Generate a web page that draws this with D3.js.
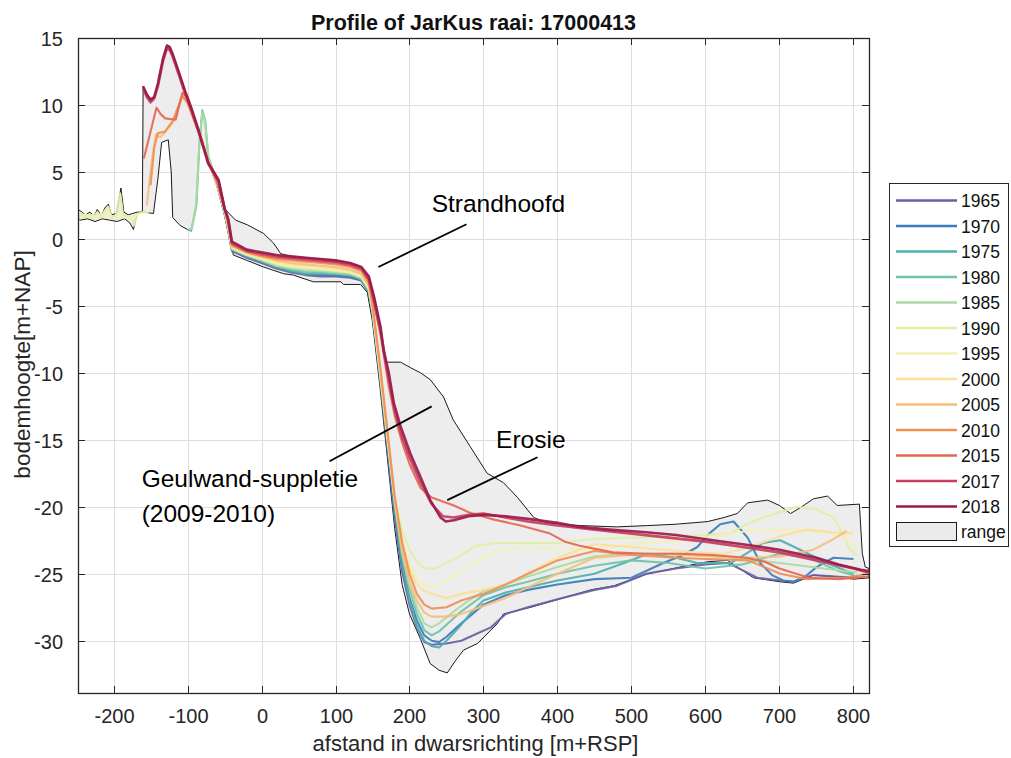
<!DOCTYPE html>
<html>
<head>
<meta charset="utf-8">
<script src="https://cdn.jsdelivr.net/npm/d3@7"></script>
<style>
  html, body { margin: 0; padding: 0; background: #fff; }
  svg { display: block; font-family: "Liberation Sans", Arial, sans-serif; }
</style>
</head>
<body>
<svg id="chart" width="1011" height="758"></svg>
<script>
// ---- profile data: [distance m+RSP, height m+NAP] ----
const years = ["1965","1970","1975","1980","1985","1990","1995","2000","2005","2010","2015","2017","2018"];
const colors = ["#6a5fa6","#3b7dba","#4eaeb0","#6fc3a6","#a9dba3","#def0a2","#f3f0b4","#fbdf96","#f8bd7c","#ef8f55","#e4674f","#c63d5e","#9b1a4b"];

const p1965 = [[-72,5.9],[-60,4.0],[-50,1.9],[-45,0.6],[-40,-0.9],[-20,-1.4],[0,-1.8],[20,-2.2],[40,-2.5],[60,-2.7],[80,-2.8],[100,-2.8],[120,-2.9],[135,-3.1],[145,-4.0],[150,-5.6],[160,-10.3],[170,-15.6],[180,-20.8],[190,-24.8],[200,-27.3],[210,-29.0],[220,-30.1],[230,-30.3],[250,-30.2],[270,-30.0],[290,-29.5],[310,-29.0],[330,-28.0],[360,-27.5],[400,-26.9],[450,-26.2],[480,-25.9],[520,-25.0],[560,-24.6],[600,-24.3],[630,-24.2],[645,-24.6],[670,-25.3],[700,-25.5],[720,-25.6],[745,-25.1],[775,-25.2],[800,-25.3]];
const p1970 = [[-72,5.9],[-60,4.1],[-50,2.0],[-45,0.7],[-40,-0.8],[-20,-1.3],[0,-1.7],[20,-2.1],[40,-2.4],[60,-2.6],[80,-2.7],[100,-2.7],[120,-2.8],[135,-3.1],[145,-4.0],[150,-5.5],[160,-10.2],[170,-15.3],[180,-20.4],[190,-24.3],[200,-26.8],[210,-28.5],[220,-29.6],[230,-30.0],[240,-30.1],[250,-29.7],[270,-28.7],[300,-27.3],[330,-26.6],[360,-26.2],[400,-25.8],[450,-25.4],[500,-25.3],[543,-24.2],[570,-23.6],[589,-23.0],[605,-22.0],[620,-21.3],[638,-21.1],[657,-22.3],[674,-24.2],[690,-25.1],[705,-25.5],[719,-25.6],[735,-25.2],[750,-24.5],[773,-23.8],[800,-23.9]];
const p1975 = [[-72,5.9],[-60,4.1],[-50,2.0],[-45,0.7],[-40,-0.8],[-20,-1.3],[0,-1.7],[20,-2.1],[40,-2.4],[60,-2.6],[80,-2.6],[100,-2.6],[120,-2.7],[135,-3.0],[145,-3.9],[150,-5.4],[160,-10.0],[170,-15.0],[180,-20.0],[190,-24.2],[200,-27.0],[210,-28.9],[220,-30.0],[230,-30.4],[240,-30.5],[250,-30.0],[260,-29.4],[270,-28.8],[285,-27.8],[300,-27.0],[330,-26.4],[360,-26.0],[400,-25.5],[450,-25.0],[490,-24.2],[522,-23.5],[560,-23.8],[589,-24.2],[634,-24.2],[655,-23.5],[678,-22.7],[701,-22.5],[728,-23.2],[750,-23.8],[773,-24.4],[800,-25.0]];
const p1980 = [[-100,0.7],[-95,0.6],[-88,2.5],[-84,7.0],[-80,9.6],[-76,8.8],[-72,6.2],[-60,4.1],[-50,2.0],[-45,0.8],[-40,-0.8],[-20,-1.2],[0,-1.6],[20,-2.0],[40,-2.3],[60,-2.5],[80,-2.5],[100,-2.6],[120,-2.7],[135,-3.0],[145,-3.9],[150,-5.4],[160,-10.0],[170,-15.0],[180,-19.8],[190,-23.6],[200,-26.1],[210,-28.0],[220,-29.2],[230,-29.6],[240,-29.3],[250,-28.8],[270,-27.8],[300,-26.6],[330,-26.0],[360,-25.6],[400,-25.0],[450,-24.4],[500,-24.0],[550,-24.2],[600,-24.6],[650,-24.3],[700,-23.5],[740,-23.8],[780,-24.8],[805,-25.2]];
const p1985 = [[-98,0.7],[-94,0.8],[-88,2.7],[-84,7.2],[-80,9.5],[-76,8.7],[-72,6.1],[-60,4.1],[-50,2.0],[-45,0.8],[-40,-0.7],[-20,-1.2],[0,-1.6],[20,-2.0],[40,-2.2],[60,-2.3],[80,-2.4],[100,-2.5],[120,-2.6],[135,-2.9],[145,-3.8],[150,-5.3],[160,-9.9],[170,-14.8],[180,-19.6],[190,-23.4],[200,-25.8],[210,-27.5],[220,-28.7],[230,-29.0],[240,-28.7],[260,-27.8],[280,-27.0],[300,-26.3],[330,-25.8],[360,-25.2],[400,-24.5],[450,-23.7],[500,-23.5],[566,-23.5],[634,-23.8],[701,-24.2],[760,-24.6],[805,-24.9]];
const p1990 = [[-248,1.6],[-243,1.9],[-238,1.6],[-233,1.8],[-228,1.5],[-222,2.0],[-217,1.6],[-212,2.1],[-207,2.4],[-203,1.7],[-197,1.7],[-191,3.4],[-187,1.8],[-181,1.7],[-175,1.6],[-172,1.0],[-168,1.9],[-120,null],
  [-72,5.9],[-60,4.1],[-50,2.1],[-45,0.9],[-40,-0.7],[-20,-1.2],[0,-1.5],[20,-1.9],[40,-2.1],[60,-2.2],[80,-2.3],[100,-2.4],[120,-2.5],[135,-2.8],[145,-3.7],[150,-5.2],[160,-9.8],[170,-14.6],[180,-19.2],[190,-21.8],[200,-23.2],[210,-24.1],[220,-24.6],[235,-24.6],[250,-24.2],[270,-23.6],[290,-22.9],[320,-22.7],[360,-22.7],[400,-22.7],[450,-22.4],[500,-22.3],[566,-22.2],[634,-22.0],[655,-21.3],[678,-20.8],[700,-20.4],[724,-20.0],[750,-20.2],[773,-20.8],[785,-22.0],[795,-23.2],[805,-23.6]];
const p1995 = [[-248,1.5],[-243,1.6],[-238,1.9],[-233,1.6],[-228,1.8],[-222,1.5],[-217,1.9],[-212,1.6],[-207,2.2],[-203,1.5],[-197,1.6],[-191,2.0],[-187,1.6],[-181,1.6],[-175,1.5],[-170,1.8],[-166,1.9],[-160,2.0],[-152,1.9],[-120,null],
  [-72,5.9],[-60,4.1],[-50,2.1],[-45,0.9],[-40,-0.6],[-20,-1.1],[0,-1.5],[20,-1.8],[40,-2.0],[60,-2.1],[80,-2.2],[100,-2.3],[120,-2.5],[135,-2.8],[145,-3.7],[150,-5.2],[160,-9.8],[170,-14.7],[180,-19.5],[190,-22.7],[200,-24.3],[210,-25.3],[220,-25.9],[230,-26.0],[250,-25.5],[270,-24.8],[300,-23.8],[320,-23.2],[360,-23.0],[400,-23.1],[450,-23.2],[500,-22.8],[566,-22.5],[610,-22.2],[657,-21.8],[700,-21.7],[746,-21.8],[775,-22.0],[795,-22.6],[805,-23.2]];
const p2000 = [[-72,5.9],[-60,4.2],[-50,2.2],[-45,1.0],[-40,-0.6],[-20,-1.1],[0,-1.4],[20,-1.7],[40,-1.9],[60,-2.0],[80,-2.1],[100,-2.2],[120,-2.4],[135,-2.7],[145,-3.6],[150,-5.1],[160,-9.6],[170,-14.5],[180,-19.4],[190,-22.8],[200,-24.6],[210,-25.8],[220,-26.3],[230,-26.5],[250,-26.8],[270,-26.5],[300,-26.2],[330,-25.8],[360,-25.0],[400,-23.8],[450,-22.8],[500,-23.0],[543,-23.2],[585,-23.4],[625,-23.5],[660,-23.0],[701,-22.2],[737,-21.7],[770,-21.9],[800,-22.0]];
const p2005 = [[-155,2.5],[-149,5.5],[-143,7.8],[-137,7.6],[-131,7.9],[-120,8.7],[-107,10.6],[-100,10.1],[-92,9.0],[-85,8.0],[-72,5.8],[-60,4.2],[-50,2.2],[-45,1.0],[-40,-0.5],[-20,-1.0],[0,-1.3],[20,-1.6],[40,-1.8],[60,-1.9],[80,-2.0],[100,-2.1],[120,-2.3],[135,-2.6],[145,-3.5],[150,-5.0],[160,-9.5],[170,-14.5],[180,-19.5],[190,-23.2],[200,-25.6],[210,-27.0],[220,-27.9],[230,-28.2],[250,-28.2],[270,-28.0],[300,-27.4],[330,-26.8],[360,-26.0],[400,-25.0],[450,-23.8],[522,-23.5],[570,-23.6],[611,-23.7],[660,-23.8],[701,-23.7],[746,-23.2],[770,-22.5],[791,-21.8]];
const p2010 = [[-150,4.0],[-145,6.8],[-140,7.9],[-131,8.0],[-120,8.8],[-107,10.7],[-100,10.2],[-92,9.0],[-85,8.0],[-72,5.8],[-60,4.2],[-50,2.3],[-45,1.1],[-40,-0.5],[-20,-1.0],[0,-1.3],[20,-1.5],[40,-1.6],[60,-1.7],[80,-1.8],[100,-1.9],[120,-2.1],[135,-2.4],[145,-3.3],[150,-4.9],[160,-9.3],[170,-14.2],[180,-19.2],[190,-22.6],[200,-25.0],[210,-26.5],[220,-27.3],[230,-27.6],[250,-27.5],[270,-27.0],[300,-26.5],[330,-25.8],[360,-25.0],[400,-24.0],[450,-23.3],[499,-23.6],[560,-23.8],[600,-23.9],[657,-24.0],[680,-24.5],[701,-25.0],[737,-25.4],[790,-25.3],[820,-25.0]];
const p2015 = [[-159,6.0],[-150,8.0],[-142,9.8],[-136,9.3],[-130,9.0],[-116,8.9],[-107,10.9],[-100,10.6],[-92,9.3],[-85,8.1],[-72,5.7],[-60,4.3],[-50,2.2],[-45,1.3],[-40,-0.4],[-20,-0.9],[0,-1.2],[20,-1.4],[40,-1.5],[60,-1.6],[80,-1.7],[100,-1.8],[120,-2.0],[135,-2.3],[145,-3.1],[151,-4.5],[161,-7.2],[172,-11.0],[180,-13.2],[190,-15.2],[200,-16.8],[215,-18.6],[230,-19.3],[245,-19.6],[260,-19.9],[280,-20.4],[310,-20.9],[350,-21.4],[390,-22.0],[410,-22.6],[430,-22.9],[475,-23.4],[520,-23.5],[565,-23.5],[610,-23.6],[655,-23.8],[680,-24.1],[700,-24.6],[740,-25.3],[780,-25.4],[820,-25.2]];
const p2017 = [[-160,11.2],[-155,10.6],[-150,10.2],[-145,10.5],[-140,11.4],[-133,13.3],[-128,14.2],[-124,14.1],[-120,13.6],[-112,12.3],[-103,10.8],[-95,9.6],[-85,8.0],[-72,5.6],[-58,4.3],[-50,2.3],[-45,1.4],[-40,-0.3],[-20,-0.9],[0,-1.1],[20,-1.3],[40,-1.4],[60,-1.5],[80,-1.6],[100,-1.7],[120,-1.9],[135,-2.2],[145,-3.0],[151,-4.4],[161,-6.9],[172,-10.5],[180,-12.8],[190,-14.8],[200,-16.3],[215,-18.2],[230,-19.8],[245,-20.7],[260,-20.8],[280,-20.6],[300,-20.5],[330,-20.8],[360,-21.1],[400,-21.4],[450,-21.7],[500,-22.0],[550,-22.3],[600,-22.6],[650,-23.0],[700,-23.4],[750,-24.0],[800,-24.6],[820,-24.9]];
const p2018 = [[-160,11.4],[-155,10.8],[-150,10.4],[-145,10.6],[-140,11.6],[-133,13.5],[-128,14.4],[-124,14.3],[-120,13.8],[-112,12.5],[-103,11.0],[-95,9.8],[-85,8.1],[-72,5.7],[-58,4.4],[-50,2.3],[-45,1.5],[-40,-0.2],[-20,-0.8],[0,-1.0],[20,-1.2],[40,-1.3],[60,-1.4],[80,-1.5],[100,-1.6],[120,-1.8],[135,-2.1],[145,-2.8],[152,-4.3],[161,-6.6],[165,-8.3],[172,-10.0],[179,-12.3],[188,-14.0],[201,-16.0],[215,-17.8],[228,-19.5],[242,-20.8],[249,-21.1],[260,-21.0],[280,-20.7],[300,-20.6],[330,-20.7],[360,-20.9],[400,-21.2],[430,-21.5],[470,-21.7],[520,-21.9],[560,-22.1],[610,-22.5],[650,-22.8],[700,-23.2],[750,-23.8],[780,-24.3],[810,-24.7],[821,-24.8]];

// envelope over all surveyed years
const rangeUpper = [[-248,2.2],[-245,2.1],[-238,1.8],[-232,2.0],[-226,1.7],[-222,2.2],[-216,1.7],[-212,2.3],[-207,2.6],[-203,1.8],[-196,1.9],[-190,3.8],[-186,2.0],[-180,1.8],[-174,1.9],[-168,2.0],[-161,2.0],[-160,11.4],[-155,10.8],[-150,10.4],[-145,10.6],[-140,11.6],[-133,13.5],[-128,14.5],[-124,14.4],[-120,13.8],[-112,12.5],[-103,11.0],[-95,9.8],[-85,8.1],[-72,5.7],[-58,4.4],[-52,3.0],[-49,2.2],[-35,1.4],[-19,1.05],[3,0.4],[16,-0.3],[26,-1.1],[40,-1.3],[60,-1.4],[80,-1.5],[100,-1.6],[120,-1.8],[135,-2.1],[145,-2.8],[152,-4.2],[161,-6.6],[165,-8.3],[168,-9.2],[188,-9.2],[201,-9.6],[215,-10.0],[228,-10.5],[246,-11.8],[259,-13.5],[282,-15.5],[305,-17.5],[327,-18.2],[346,-19.3],[368,-20.8],[386,-21.2],[431,-21.4],[480,-21.5],[522,-21.4],[560,-21.3],[603,-21.1],[625,-20.8],[643,-20.5],[657,-19.7],[684,-19.5],[700,-19.9],[715,-20.5],[730,-20.0],[746,-19.4],[765,-19.2],[778,-19.9],[808,-19.8],[812,-23.5],[816,-24.5],[821,-24.6]];
const rangeLower = [[-248,1.5],[-245,1.4],[-235,1.5],[-225,1.3],[-215,1.5],[-205,1.4],[-195,1.3],[-185,1.5],[-178,1.2],[-173,0.7],[-168,1.9],[-160,2.0],[-146,1.9],[-140,4.5],[-135,7.2],[-126,7.4],[-122,5.0],[-120,1.6],[-110,1.0],[-100,0.7],[-95,0.6],[-88,2.5],[-84,7.0],[-80,9.6],[-76,8.8],[-72,5.9],[-60,4.0],[-50,1.8],[-45,0.5],[-38,-1.2],[-20,-1.6],[3,-2.1],[30,-2.6],[43,-2.7],[70,-3.2],[107,-3.2],[111,-3.4],[134,-3.4],[143,-4.0],[150,-6.2],[160,-11.0],[170,-16.3],[180,-21.6],[190,-25.8],[200,-28.0],[215,-29.9],[228,-31.7],[240,-32.2],[251,-32.4],[262,-31.5],[273,-30.7],[292,-30.2],[319,-28.7],[327,-28.0],[364,-27.5],[408,-26.8],[445,-26.2],[476,-25.9],[522,-25.0],[566,-24.5],[603,-24.1],[630,-24.0],[643,-24.5],[665,-25.3],[701,-25.6],[719,-25.7],[746,-25.1],[773,-25.2],[800,-25.4],[821,-25.3]];

const xTicks = [-200,-100,0,100,200,300,400,500,600,700,800];
const yTicks = [15,10,5,0,-5,-10,-15,-20,-25,-30];

const profiles = [p1965,p1970,p1975,p1980,p1985,p1990,p1995,p2000,p2005,p2010,p2015,p2017,p2018];

// annotations in data coordinates
const notes = [
  { lines: ["Strandhoofd"], at: [230, 2.0], from: [158, -2.1], to: [277, 1.1] },
  { lines: ["Geulwand-suppletie", "(2009-2010)"], at: [-162, -18.5], from: [92, -16.6], to: [230, -12.5] },
  { lines: ["Erosie"], at: [317, -15.6], from: [251, -19.5], to: [373, -16.3] }
];

// ---- layout ----
const svg = d3.select("#chart");
const L = 78, R = 869, T = 38, B = 693;
const x = d3.scaleLinear().domain([-248, 821]).range([L, R]);
const y = d3.scaleLinear().domain([-33.9, 15]).range([B, T]);
const FONT = "'Liberation Sans', Arial, sans-serif";
const AX = "#262626";

svg.append("rect").attr("width", 1011).attr("height", 758).attr("fill", "#fff");

svg.append("clipPath").attr("id", "plotclip")
  .append("rect").attr("x", L).attr("y", T).attr("width", R - L).attr("height", B - T);

// grid
const grid = svg.append("g");
grid.selectAll(".gx").data(xTicks).join("line")
  .attr("x1", d => Math.round(x(d)) + 0.5).attr("x2", d => Math.round(x(d)) + 0.5)
  .attr("y1", T).attr("y2", B).attr("stroke", "#dedede").attr("stroke-width", 1);
grid.selectAll(".gy").data(yTicks).join("line")
  .attr("y1", d => Math.round(y(d)) + 0.5).attr("y2", d => Math.round(y(d)) + 0.5)
  .attr("x1", L).attr("x2", R).attr("stroke", "#dedede").attr("stroke-width", 1);

const plot = svg.append("g").attr("clip-path", "url(#plotclip)");

// range envelope
const lin = d3.line().x(d => x(d[0])).y(d => y(d[1]));
const rangePoly = rangeUpper.concat(rangeLower.slice().reverse());
plot.append("path")
  .attr("d", lin(rangePoly) + "Z")
  .attr("fill", "#ebebeb").attr("fill-opacity", 0.9)
  .attr("stroke", "#1a1a1a").attr("stroke-width", 1).attr("stroke-linejoin", "round");

// year profiles
const yl = d3.line().defined(d => d[1] !== null).x(d => x(d[0])).y(d => y(d[1]));
profiles.forEach((p, i) => {
  plot.append("path")
    .attr("d", yl(p))
    .attr("fill", "none")
    .attr("stroke", colors[i])
    .attr("stroke-width", i >= 11 ? 2.6 : 2.1)
    .attr("stroke-opacity", 0.92)
    .attr("stroke-linejoin", "round");
});

// axes box and ticks
const axes = svg.append("g");
const tl = 7;
xTicks.forEach(t => {
  const px = Math.round(x(t)) + 0.5;
  axes.append("line").attr("x1", px).attr("x2", px).attr("y1", B).attr("y2", B - tl).attr("stroke", AX);
  axes.append("line").attr("x1", px).attr("x2", px).attr("y1", T).attr("y2", T + tl).attr("stroke", AX);
  axes.append("text").attr("x", px).attr("y", 723).attr("text-anchor", "middle")
    .attr("font-size", 20).attr("font-family", FONT).attr("fill", AX).text(t);
});
yTicks.forEach(t => {
  const py = Math.round(y(t)) + 0.5;
  axes.append("line").attr("x1", L).attr("x2", L + tl).attr("y1", py).attr("y2", py).attr("stroke", AX);
  axes.append("line").attr("x1", R).attr("x2", R - tl).attr("y1", py).attr("y2", py).attr("stroke", AX);
  axes.append("text").attr("x", 63).attr("y", py + 7).attr("text-anchor", "end")
    .attr("font-size", 20).attr("font-family", FONT).attr("fill", AX).text(t);
});
axes.append("rect").attr("x", L + 0.5).attr("y", T + 0.5).attr("width", R - L).attr("height", B - T)
  .attr("fill", "none").attr("stroke", AX).attr("stroke-width", 1.3);

// titles
svg.append("text").attr("x", (L + R) / 2).attr("y", 30).attr("text-anchor", "middle")
  .attr("font-size", 21.5).attr("font-weight", "bold").attr("font-family", FONT).attr("fill", "#111")
  .text("Profile of JarKus raai: 17000413");
svg.append("text").attr("x", (L + R) / 2 + 2).attr("y", 751).attr("text-anchor", "middle")
  .attr("font-size", 22).attr("font-family", FONT).attr("fill", AX)
  .text("afstand in dwarsrichting [m+RSP]");
svg.append("text").attr("transform", `translate(30,${(T + B) / 2 - 1}) rotate(-90)`).attr("text-anchor", "middle")
  .attr("font-size", 22.5).attr("font-family", FONT).attr("fill", AX)
  .text("bodemhoogte[m+NAP]");

// annotations
notes.forEach(n => {
  svg.append("line")
    .attr("x1", x(n.from[0])).attr("y1", y(n.from[1]))
    .attr("x2", x(n.to[0])).attr("y2", y(n.to[1]))
    .attr("stroke", "#000").attr("stroke-width", 1.8);
  n.lines.forEach((s, k) => {
    svg.append("text").attr("x", x(n.at[0])).attr("y", y(n.at[1]) + k * 35)
      .attr("font-size", 24.5).attr("font-family", FONT).attr("fill", "#000").text(s);
  });
});

// legend
const lg = svg.append("g");
lg.append("rect").attr("x", 889.5).attr("y", 183.5).attr("width", 119).attr("height", 363)
  .attr("fill", "#fff").attr("stroke", AX).attr("stroke-width", 1);
years.forEach((yr, i) => {
  const cy = 200.5 + i * 25.5;
  lg.append("line").attr("x1", 896).attr("x2", 957).attr("y1", cy).attr("y2", cy)
    .attr("stroke", colors[i]).attr("stroke-width", 2.4);
  lg.append("text").attr("x", 961).attr("y", cy + 6.5).attr("font-size", 17.5)
    .attr("font-family", FONT).attr("fill", "#111").text(yr);
});
lg.append("rect").attr("x", 896.5).attr("y", 522.5).attr("width", 60).attr("height", 18)
  .attr("fill", "#ebebeb").attr("stroke", "#1a1a1a");
lg.append("text").attr("x", 961).attr("y", 538).attr("font-size", 17.5)
  .attr("font-family", FONT).attr("fill", "#111").text("range");
</script>
</body>
</html>
